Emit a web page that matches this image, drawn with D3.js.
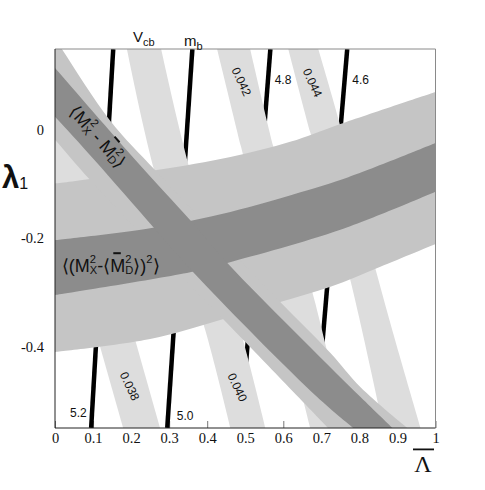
<!DOCTYPE html>
<html><head><meta charset="utf-8">
<script src="https://cdn.jsdelivr.net/npm/d3@7"></script>
<style>body{margin:0;background:#fff} svg{display:block}</style>
</head><body>
<svg id="chart" width="485" height="490"></svg>
<script>
// ---------------- data ----------------
const xTicks = [0,0.1,0.2,0.3,0.4,0.5,0.6,0.7,0.8,0.9,1];
const xTickLabels = ["0","0.1","0.2","0.3","0.4","0.5","0.6","0.7","0.8","0.9","1"];
const yTicks = [0,-0.2,-0.4];
const yTickLabels = ["0","-0.2","-0.4"];

// band <(M_X^2 - <M_D^2>)^2> : edges as [Lambda-bar, lambda1]
const momOuterTop    = [[0,-0.100],[0.268,-0.075],[0.461,-0.051],[0.618,-0.023],[0.75,0.010],[1,0.069]];
const momDarkTop     = [[0,-0.204],[0.25,-0.182],[0.461,-0.152],[0.645,-0.116],[0.771,-0.088],[1,-0.025]];
const momDarkBottom  = [[0,-0.305],[0.355,-0.263],[0.453,-0.246],[0.75,-0.185],[1,-0.115]];
const momOuterBottom = [[0,-0.410],[0.25,-0.386],[0.434,-0.351],[0.592,-0.318],[0.724,-0.290],[0.855,-0.253],[1,-0.211]];

// band <M_X^2 - M_D^2> : edges top to bottom
const diagOuterUpper = [[-0.04,0.211],[0.018,0.148],[0.145,0.016],[0.263,-0.075],[0.426,-0.197],[0.592,-0.318],[0.724,-0.412],[0.803,-0.475],[0.926,-0.55]];
const diagDarkUpper  = [[-0.04,0.145],[0,0.113],[0.216,-0.06],[0.355,-0.167],[0.453,-0.246],[0.626,-0.37],[0.803,-0.493],[0.887,-0.55]];
const diagDarkLower  = [[-0.04,0.051],[0,0.023],[0.103,-0.056],[0.261,-0.182],[0.382,-0.277],[0.689,-0.493],[0.784,-0.55]];
const diagOuterLower = [[-0.04,0.012],[0,-0.019],[0.092,-0.093],[0.292,-0.241],[0.495,-0.388],[0.718,-0.55]];

// V_cb bands
const vcbValues = ["0.038","0.040","0.042","0.044"];
const vcb038Left  = [[-0.103,0.148],[0.179,-0.55]];
const vcb038Right = [[-0.005,0.148],[0.276,-0.55]];
const vcb040Left  = [[0.189,0.148],[0.261,-0.075],[0.395,-0.37],[0.461,-0.55]];
const vcb040Right = [[0.279,0.148],[0.355,-0.075],[0.487,-0.37],[0.553,-0.55]];
const vcb042Left  = [[0.426,0.148],[0.489,-0.032],[0.589,-0.32],[0.671,-0.55]];
const vcb042Right = [[0.513,0.148],[0.574,-0.032],[0.684,-0.32],[0.763,-0.55]];
const vcb044Left  = [[0.613,0.148],[0.671,-0.006],[0.776,-0.277],[0.863,-0.55]];
const vcb044Right = [[0.692,0.148],[0.755,-0.006],[0.85,-0.277],[0.961,-0.55]];

// m_b contours
const mbValues = ["5.2","5.0","4.8","4.6"];
const mb52 = [[0.153,0.148],[0.095,-0.55]];
const mb50 = [[0.361,0.148],[0.295,-0.55]];
const mb48 = [[0.566,0.148],[0.489,-0.55]];
const mb46 = [[0.768,0.148],[0.684,-0.55]];

// ---------------- layout ----------------
const svg = d3.select("#chart");
const L = 55, R = 435.5, T = 49, B = 428;
const x = d3.scaleLinear().domain([0,1]).range([L,R]);
const y = d3.scaleLinear().domain([-0.55,0.148]).range([B,T]);

const serif = "'Liberation Serif', 'Times New Roman', serif";
const sans = "'Liberation Sans', Arial, Helvetica, sans-serif";

// axes (ticks under the bands)
const xAxis = svg.append("g").attr("transform",`translate(0,${B})`)
  .call(d3.axisBottom(x).tickValues(xTicks).tickFormat((d,i)=>xTickLabels[i]).tickSizeInner(-7).tickSizeOuter(0).tickPadding(5));
const yAxis = svg.append("g").attr("transform",`translate(${L},0)`)
  .call(d3.axisLeft(y).tickValues(yTicks).tickFormat((d,i)=>yTickLabels[i]).tickSizeInner(-7).tickSizeOuter(0).tickPadding(11));
[xAxis,yAxis].forEach(g=>{
  g.attr("font-family",serif).attr("font-size",14.5);
  g.select(".domain").remove();
  g.selectAll(".tick line").attr("stroke","#777");
  g.selectAll(".tick text").style("font-family",serif).style("font-size","14.5px").attr("fill","#111");
});

svg.append("clipPath").attr("id","plotclip").append("rect")
  .attr("x",L).attr("y",T).attr("width",R-L).attr("height",B-T);
const plot = svg.append("g").attr("clip-path","url(#plotclip)");

const lineGen = d3.line().x(d=>x(d[0])).y(d=>y(d[1])).curve(d3.curveCatmullRom.alpha(0.5));
function bandPath(a, b){
  const pa = lineGen(a);
  const pb = lineGen(b.slice().reverse());
  return pa + "L" + pb.slice(1) + "Z";
}

// m_b lines
const mbLines = [mb52, mb50, mb48, mb46];
plot.selectAll(".mb").data(mbLines).join("path")
  .attr("d", d=>d3.line().x(p=>x(p[0])).y(p=>y(p[1]))(d))
  .attr("stroke","#000").attr("stroke-width",4.5).attr("fill","none");

// V_cb bands
const vcbBands = [[vcb038Left,vcb038Right],[vcb040Left,vcb040Right],[vcb042Left,vcb042Right],[vcb044Left,vcb044Right]];
plot.selectAll(".vcb").data(vcbBands).join("path")
  .attr("d", d=>bandPath(d[0], d[1])).attr("fill","#dddddd");

// outer light grey bands
plot.append("path").attr("d", bandPath(momOuterTop, momOuterBottom)).attr("fill","#c5c5c5");
plot.append("path").attr("d", bandPath(diagOuterUpper, diagOuterLower)).attr("fill","#c5c5c5");
// inner dark bands
plot.append("path").attr("d", bandPath(momDarkTop, momDarkBottom)).attr("fill","#8c8c8c");
plot.append("path").attr("d", bandPath(diagDarkUpper, diagDarkLower)).attr("fill","#8c8c8c");

// helper: x of a polyline at lambda
function xAt(edge, lam){
  for (let i=0;i<edge.length-1;i++){
    const a=edge[i], b=edge[i+1];
    if ((lam<=a[1] && lam>=b[1]) || (lam>=a[1] && lam<=b[1])){
      const t=(lam-a[1])/(b[1]-a[1]); return a[0]+t*(b[0]-a[0]);
    }
  }
  return edge[edge.length-1][0];
}

// V_cb labels
const vcbLabelLam = [-0.473,-0.475,0.088,0.086];
vcbBands.forEach((bd,i)=>{
  const lam = vcbLabelLam[i];
  const cx = x((xAt(bd[0],lam)+xAt(bd[1],lam))/2), cy = y(lam);
  svg.append("text").attr("transform",`translate(${cx},${cy}) rotate(65)`)
    .attr("text-anchor","middle").attr("dy","0.35em")
    .attr("font-family",sans).attr("font-size",12).attr("fill","#111").text(vcbValues[i]);
});

// m_b labels
const mbLabelSpec = [{lam:-0.53,dx:-5,anchor:"end"},{lam:-0.535,dx:9,anchor:"start"},{lam:0.084,dx:7,anchor:"start"},{lam:0.084,dx:8,anchor:"start"}];
mbLines.forEach((ln,i)=>{
  const s = mbLabelSpec[i];
  svg.append("text").attr("x", x(xAt(ln,s.lam))+s.dx).attr("y", y(s.lam))
    .attr("text-anchor",s.anchor).attr("font-family",sans).attr("font-size",12).attr("fill","#111").text(mbValues[i]);
});

// math labels
function mathLabel(tx, ty, angle, anchor, fs, parts, barIdx){
  const g = svg.append("g").attr("transform",`translate(${tx},${ty}) rotate(${angle})`);
  const t = g.append("text").attr("font-family",sans).attr("font-size",fs).attr("fill","#111").attr("text-anchor",anchor);
  const small = fs*0.62, supShift = -0.5*fs, subShift = 0.12*fs;
  let shift = 0;
  parts.forEach(p=>{
    if (typeof p === "string"){
      t.append("tspan").attr("dy", 0-shift).text(p); shift = 0;
    } else {
      let w = 0;
      if (p.sup){ const s=t.append("tspan").attr("font-size",small).attr("dy",supShift-shift).text(p.sup); shift=supShift; w=s.node().getComputedTextLength(); }
      if (p.sub){ t.append("tspan").attr("font-size",small).attr("dx",p.sup?-w:0).attr("dy",subShift-shift).text(p.sub); shift=subShift; }
    }
  });
  if (barIdx !== undefined){
    const ext = t.node().getExtentOfChar(barIdx);
    g.append("rect").attr("x",ext.x+ext.width*0.2).attr("width",ext.width*0.5)
      .attr("y",-0.72*fs-7).attr("height",2).attr("fill","#111");
  }
}
// horizontal band label
mathLabel(x(0.018), y(-0.263), 0, "start", 18,
  ["\u27E8(M",{sup:"2",sub:"X"},"-\u27E8M",{sup:"2",sub:"D"},"\u27E9)",{sup:"2"},"\u27E9"], 7);
// diagonal band label
mathLabel(x(0.09)+4, y(-0.014)+4, 49, "middle", 18,
  ["\u27E8M",{sup:"2",sub:"X"}," - M",{sup:"2",sub:"D"},"\u27E9"], 7);

// frame
svg.append("line").attr("x1",L).attr("x2",R).attr("y1",T).attr("y2",T).attr("stroke","#8a8a8a");
svg.append("line").attr("x1",R).attr("x2",R).attr("y1",T).attr("y2",B).attr("stroke","#8a8a8a");
svg.append("line").attr("x1",L).attr("x2",L).attr("y1",T).attr("y2",B).attr("stroke","#222");
svg.append("line").attr("x1",L).attr("x2",R).attr("y1",B).attr("y2",B).attr("stroke","#222");

// top family labels
const vt = svg.append("text").attr("x",133).attr("y",42).attr("font-family",sans).attr("font-size",15).attr("fill","#111");
vt.append("tspan").text("V");
vt.append("tspan").attr("font-size",11).attr("dy",4).text("cb");
const mt = svg.append("text").attr("x",184).attr("y",46).attr("font-family",sans).attr("font-size",15).attr("fill","#111");
mt.append("tspan").text("m");
mt.append("tspan").attr("font-size",11).attr("dy",4).text("b");

// axis titles
const lt = svg.append("text").attr("x",2).attr("y",188).attr("font-family",sans).attr("font-size",31).attr("font-weight","bold").attr("fill","#111");
lt.append("tspan").text("\u03BB");
lt.append("tspan").attr("font-size",16).attr("font-weight","normal").attr("dy",1).text("1");
svg.append("text").attr("x",423).attr("y",472).attr("text-anchor","middle").attr("font-family",serif).attr("font-size",24).attr("fill","#111").text("\u039B");
svg.append("rect").attr("x",413).attr("y",448.5).attr("width",21).attr("height",1.8).attr("fill","#111");
</script>
</body></html>
